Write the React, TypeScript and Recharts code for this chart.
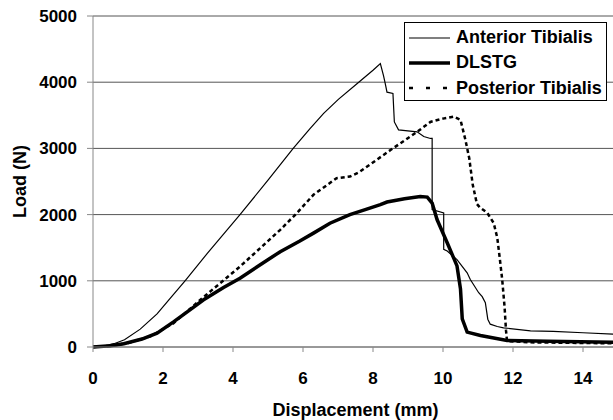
import { LineChart, Line, XAxis, YAxis, CartesianGrid, Legend } from 'recharts'

// [displacement (mm), load (N)]
const anteriorTibialis: [number, number][] = [
  [0, 0], [0.3, 15], [0.6, 50], [0.9, 110], [1.35, 270], [1.83, 500], [2.15, 700], [2.63, 1000],
  [3.26, 1410], [4.2, 2000], [5.0, 2520], [5.72, 3000], [6.2, 3300], [6.59, 3530], [7.01, 3740],
  [7.55, 3980], [8.0, 4180], [8.21, 4280], [8.3, 4100], [8.35, 3980], [8.4, 3850], [8.57, 3830],
  [8.61, 3400], [8.73, 3280], [9.26, 3250], [9.45, 3180], [9.64, 3150], [9.69, 3150],
  [9.69, 2075], [10.02, 2025], [10.02, 1475], [10.12, 1450], [10.4, 1320], [10.69, 1120],
  [10.78, 1020], [11.02, 820], [11.12, 760], [11.21, 670], [11.28, 420], [11.35, 345],
  [11.55, 310], [11.73, 290], [12.5, 245], [13.15, 235], [14, 215], [15, 190],
]

const dlstg: [number, number][] = [
  [0, 0], [0.5, 20], [0.88, 50], [1.4, 120], [1.83, 210], [2.3, 380], [2.78, 565], [3.15, 710],
  [3.73, 900], [4.2, 1040], [4.8, 1250], [5.35, 1440], [5.91, 1600], [6.3, 1720], [6.77, 1870],
  [7.34, 2000], [7.8, 2080], [8.21, 2150], [8.4, 2190], [8.9, 2240], [9.35, 2275],
  [9.55, 2265], [9.69, 2175], [9.83, 1925], [10.12, 1575], [10.3, 1350], [10.4, 1225],
  [10.5, 875], [10.55, 425], [10.69, 225], [11.07, 175], [11.83, 100], [13, 85], [15, 70],
]

const posteriorTibialis: [number, number][] = [
  [0, 0], [0.5, 15], [1, 60], [1.64, 160], [2.3, 360], [3.15, 750], [4.21, 1220],
  [5.35, 1770], [5.82, 2020], [6.3, 2300], [6.96, 2550], [7.34, 2575], [7.6, 2640],
  [8.5, 2975], [9.26, 3250], [9.64, 3400], [10.0, 3450], [10.3, 3480], [10.5, 3430],
  [10.64, 3130], [10.75, 2850], [10.85, 2450], [10.97, 2160], [11.05, 2110], [11.26, 2030],
  [11.45, 1870], [11.55, 1650], [11.62, 1350], [11.69, 1025], [11.76, 600], [11.8, 250],
  [11.83, 90], [12.5, 70], [15, 55],
]

const xTicks = [0, 2, 4, 6, 8, 10, 12, 14]
const yTicks = [0, 1000, 2000, 3000, 4000, 5000]

const series = [
  { name: 'Anterior Tibialis', data: anteriorTibialis, width: 1.2, dash: undefined, sampleDash: undefined },
  { name: 'DLSTG', data: dlstg, width: 3.5, dash: undefined, sampleDash: undefined },
  { name: 'Posterior Tibialis', data: posteriorTibialis, width: 2.5, dash: '4 3', sampleDash: '4 13' },
]

const font = '"Liberation Sans", Arial, sans-serif'
const tickStyle = { fontFamily: font, fontSize: 17, fontWeight: 700, fill: '#000' }
const titleStyle = { ...tickStyle, fontSize: 18 }

const toPoints = (pts: [number, number][]) => pts.map(([x, y]) => ({ x, y }))

const LegendBox = () => (
  <div
    style={{
      border: '1px solid #000',
      background: '#fff',
      width: 201,
      height: 75,
      paddingTop: 2,
      boxSizing: 'content-box',
      fontFamily: font,
      fontWeight: 700,
      fontSize: 18,
      whiteSpace: 'nowrap',
    }}
  >
    {series.map(s => (
      <div key={s.name} style={{ display: 'flex', alignItems: 'center', height: 25.3, paddingLeft: 4 }}>
        <svg width={42} height={10} style={{ marginRight: 5, flex: 'none' }}>
          <line x1={0} y1={5} x2={41} y2={5} stroke="#000" strokeWidth={s.width} strokeDasharray={s.sampleDash} />
        </svg>
        <span>{s.name}</span>
      </div>
    ))}
  </div>
)

export default function App() {
  return (
    <div style={{ position: 'absolute', left: 0, top: 0, width: 613, height: 420, overflow: 'hidden', background: '#fff' }}>
      <LineChart width={620} height={420} margin={{ top: 16, right: 2, bottom: 0, left: 0 }}>
        <CartesianGrid vertical={false} stroke="#555" />
        <XAxis
          dataKey="x"
          type="number"
          domain={[0, 15]}
          ticks={xTicks}
          height={73}
          stroke="#888"
          tickSize={5}
          tickMargin={20}
          tick={tickStyle}
          label={{ value: 'Displacement (mm)', position: 'insideBottom', offset: 4, style: titleStyle }}
        />
        <YAxis
          type="number"
          domain={[0, 5000]}
          ticks={yTicks}
          width={93}
          stroke="#888"
          tickSize={6}
          tickMargin={10}
          tick={tickStyle}
          label={{ value: 'Load (N)', angle: -90, position: 'insideLeft', offset: 20, style: { ...titleStyle, textAnchor: 'middle' } }}
        />
        {series.map(s => (
          <Line
            key={s.name}
            data={toPoints(s.data)}
            dataKey="y"
            name={s.name}
            type="linear"
            stroke="#000"
            strokeWidth={s.width}
            strokeDasharray={s.dash}
            dot={false}
            activeDot={false}
            isAnimationActive={false}
          />
        ))}
        <Legend
          layout="vertical"
          align="center"
          verticalAlign="middle"
          content={<LegendBox />}
          wrapperStyle={{ left: 404, top: 22, width: 203, height: 78 }}
        />
      </LineChart>
    </div>
  )
}
